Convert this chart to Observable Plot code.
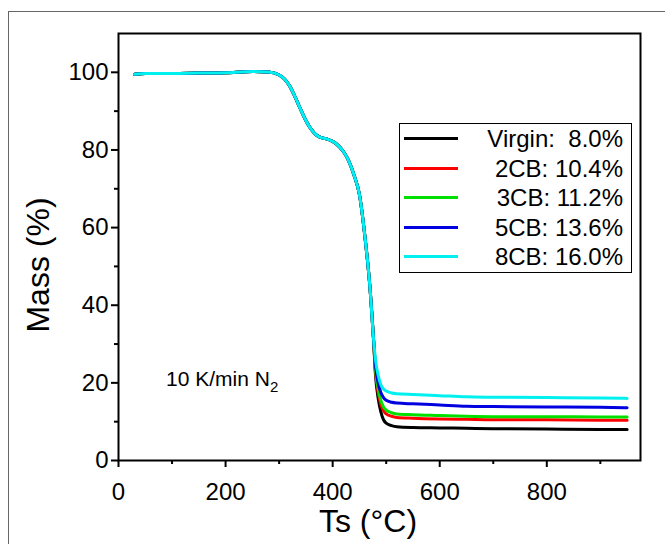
<!DOCTYPE html>
<html>
<head>
<meta charset="utf-8">
<script src="https://cdn.jsdelivr.net/npm/d3@7"></script>
<script src="https://cdn.jsdelivr.net/npm/@observablehq/plot@0.6"></script>
<style>
  html, body { margin: 0; padding: 0; background: #fff; overflow: hidden; }
  #wrap { position: relative; width: 665px; height: 544px; font-family: "Liberation Sans", Arial, sans-serif; }
  #outer { position: absolute; left: 8px; top: 11px; width: 700px; height: 600px; border-left: 1px solid #666; border-top: 1px solid #666; }
  .ov { position: absolute; color: #000; white-space: pre; }
  #legend { position: absolute; left: 399px; top: 123px; width: 233px; height: 150px; border: 1px solid #000; background: #fff; box-sizing: border-box; }
  .row { position: absolute; left: 0; width: 100%; height: 30px; }
  .sw { position: absolute; left: 4px; width: 54px; height: 3px; }
  .lt { position: absolute; right: 8px; font-size: 24px; line-height: 24px; white-space: pre; }
</style>
</head>
<body>
<div id="wrap">
  <div id="outer"></div>
  <div id="chart"></div>
</div>
<script>
// ---- data ----
const seriesNames = ["Virgin", "2CB", "3CB", "5CB", "8CB"];
const seriesColors = ["#000000", "#ff0000", "#00e000", "#0000e0", "#00f0f0"];
const legendLabels = ["Virgin:  8.0%", "2CB: 10.4%", "3CB: 11.2%", "5CB: 13.6%", "8CB: 16.0%"];

// common part of all curves (identical until ~476 °C)
const commonT = [30, 50, 100, 150, 200, 250, 280, 300, 310, 320, 330, 340, 350, 360, 370, 380, 390, 400, 410, 420, 430, 440, 450, 460, 470, 476];
const commonM = [99.5, 99.7, 99.7, 99.8, 99.9, 100.2, 100.1, 99.3, 98.3, 96.4, 93.6, 90.5, 87.6, 85.3, 83.8, 83.1, 82.8, 82.2, 81.2, 79.6, 77.2, 73.5, 68.5, 58, 44, 32];

// diverging tails
const tailT = [480, 485, 490, 495, 500, 510, 520, 550, 600, 650, 700, 800, 900, 950];
const virginTail = [22, 16, 12.5, 10.5, 9.6, 9.0, 8.7, 8.5, 8.4, 8.3, 8.2, 8.1, 8.0, 8.0];
const cb2Tail = [23, 17.5, 14.5, 12.8, 12.0, 11.4, 11.1, 10.9, 10.7, 10.6, 10.5, 10.5, 10.4, 10.4];
const cb3Tail = [23.5, 18.5, 15.5, 13.8, 13.0, 12.3, 12.0, 11.8, 11.6, 11.4, 11.3, 11.3, 11.2, 11.2];
const cb5Tail = [24.5, 20, 17.5, 16.2, 15.5, 15.0, 14.8, 14.6, 14.3, 14.0, 13.9, 13.8, 13.7, 13.6];
const cb8Tail = [26, 22, 19.5, 18.4, 17.9, 17.4, 17.2, 17.0, 16.7, 16.4, 16.3, 16.2, 16.1, 16.0];

const xMajor = [0, 200, 400, 600, 800];
const xMinor = [100, 300, 500, 700, 900];
const yMajor = [0, 20, 40, 60, 80, 100];
const yMinor = [10, 30, 50, 70, 90];

// ---- build table ----
const tails = [virginTail, cb2Tail, cb3Tail, cb5Tail, cb8Tail];
const rows = [];
seriesNames.forEach((name, i) => {
  commonT.forEach((t, j) => rows.push({series: name, T: t, m: commonM[j]}));
  tailT.forEach((t, j) => rows.push({series: name, T: t, m: tails[i][j]}));
});

const font = "Liberation Sans, Arial, sans-serif";
const chart = Plot.plot({
  width: 665,
  height: 544,
  marginLeft: 118,
  marginRight: 25,
  marginTop: 33,
  marginBottom: 84,
  style: {fontFamily: font, background: "transparent", color: "#000"},
  x: {domain: [0, 975]},
  y: {domain: [0, 110]},
  color: {domain: seriesNames, range: seriesColors},
  marks: [
    Plot.line(rows, {x: "T", y: "m", z: "series", stroke: "series", strokeWidth: 3, curve: "monotone-x"}),
    Plot.frame({stroke: "#000", strokeWidth: 2}),
    Plot.axisX(xMajor, {tickSize: 7, tickPadding: 15, fontSize: 24, label: null, strokeWidth: 2}),
    Plot.axisX(xMinor, {tickSize: 4, tickFormat: () => "", label: null, strokeWidth: 2}),
    Plot.axisY(yMajor, {tickSize: 7, tickPadding: 3, fontSize: 24, label: null, strokeWidth: 2}),
    Plot.axisY(yMinor, {tickSize: 4, tickFormat: () => "", label: null, strokeWidth: 2})
  ]
});
chart.style.position = "absolute";
chart.style.left = "0px";
chart.style.top = "0px";
document.getElementById("chart").appendChild(chart);

const wrap = document.getElementById("wrap");
function overlay(html, css) {
  const d = document.createElement("div");
  d.className = "ov";
  d.innerHTML = html;
  Object.assign(d.style, css);
  wrap.appendChild(d);
  return d;
}
// axis titles
overlay("Ts (°C)", {left: "0px", width: "736px", textAlign: "center", top: "503px", fontSize: "32px", lineHeight: "36px"});
overlay("Mass (%)", {left: "38px", top: "265px", fontSize: "32px", lineHeight: "36px", transform: "translate(-50%,-50%) rotate(-90deg)"});
// annotation
overlay("10 K/min N<sub style='font-size:15px;vertical-align:-6px'>2</sub>", {left: "166px", top: "367px", fontSize: "21px", lineHeight: "24px"});

// legend
const lg = document.createElement("div");
lg.id = "legend";
seriesNames.forEach((n, i) => {
  const r = document.createElement("div");
  r.className = "row";
  r.style.top = (i * 29.5) + "px";
  const sw = document.createElement("div");
  sw.className = "sw";
  sw.style.background = seriesColors[i];
  sw.style.top = "13px";
  const t = document.createElement("div");
  t.className = "lt";
  t.style.top = "3px";
  t.textContent = legendLabels[i];
  r.appendChild(sw); r.appendChild(t);
  lg.appendChild(r);
});
wrap.appendChild(lg);
</script>
</body>
</html>
